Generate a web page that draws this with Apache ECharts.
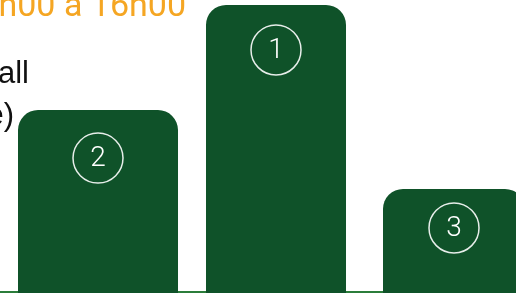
<!DOCTYPE html>
<html>
<head>
<meta charset="utf-8">
<script src="https://cdn.jsdelivr.net/npm/echarts@6/dist/echarts.min.js"></script>
<style>
  html, body { margin: 0; padding: 0; background: #fff; }
  #chart { width: 516px; height: 293px; }
</style>
</head>
<body>
<div id="chart"></div>
<script>
// podium: rang de chaque colonne et hauteur relative
var positions = [0, 1, 2];
var ranks = ['2', '1', '3'];
var scores = [62.3, 98.3, 35.3];

// mise en forme (largeur des colonnes, position du badge sous le haut)
var barWidths = [160, 140, 142];
var badgeOffset = [48, 45, 39];

var myChart = echarts.init(document.getElementById('chart'));

var option = {
    animation: false,
    grid: {
        left: 0,
        right: 0,
        top: 0,
        bottom: 1
    },
    xAxis: {
        type: 'value',
        min: -0.5506,
        max: 2.3483,
        axisLine: {
            onZero: false,
            lineStyle: { color: '#2b7d3a', width: 2 }
        },
        axisTick: { show: false },
        axisLabel: { show: false },
        splitLine: { show: false }
    },
    yAxis: {
        type: 'value',
        min: 0,
        max: 100,
        show: false
    },
    graphic: [
        {
            type: 'text',
            x: 186,
            y: 24,
            style: {
                text: 'de 8h00 à 16h00',
                font: '34px Roboto',
                fill: '#f5a623',
                align: 'right',
                verticalAlign: 'bottom'
            }
        },
        {
            type: 'text',
            x: 29,
            y: 90,
            style: {
                text: 'Classement overall',
                font: '31px "Liberation Sans"',
                fill: '#111',
                align: 'right',
                verticalAlign: 'bottom'
            }
        },
        {
            type: 'text',
            x: 14,
            y: 132,
            style: {
                text: '(moyenne)',
                font: '31px "Liberation Sans"',
                fill: '#111',
                align: 'right',
                verticalAlign: 'bottom'
            }
        }
    ],
    series: [{
        type: 'custom',
        z: 5,
        data: positions.map(function (p, i) { return [p, scores[i]]; }),
        renderItem: function (params, api) {
            var i = params.dataIndex;
            var top = api.coord([api.value(0), api.value(1)]);
            var base = api.coord([api.value(0), 0]);
            var w = barWidths[i];
            var cy = top[1] + badgeOffset[i];
            return {
                type: 'group',
                children: [{
                    type: 'rect',
                    shape: { x: top[0] - w / 2, y: top[1], width: w, height: base[1] - top[1] + 2, r: [20, 20, 0, 0] },
                    style: { fill: '#0f5229' }
                }, {
                    type: 'circle',
                    shape: { cx: top[0], cy: cy, r: 25 },
                    style: { fill: 'none', stroke: 'rgba(255,255,255,0.9)', lineWidth: 1.5 }
                }, {
                    type: 'text',
                    x: top[0],
                    y: cy + 1,
                    style: {
                        text: ranks[i],
                        font: '300 28px Roboto',
                        fill: '#ffffff',
                        align: 'center',
                        verticalAlign: 'middle'
                    }
                }]
            };
        }
    }]
};

myChart.setOption(option);
window.addEventListener('resize', function () {
    myChart.resize();
});
</script>
</body>
</html>
